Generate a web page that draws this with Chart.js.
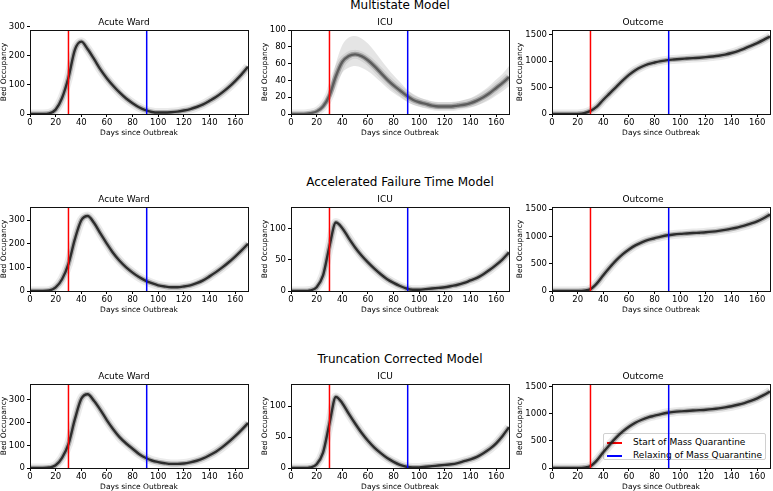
<!DOCTYPE html>
<html>
<head>
<meta charset="utf-8">
<script src="https://cdn.jsdelivr.net/npm/chart.js@4.4.0/dist/chart.umd.min.js"></script>
<style>
  body { margin: 0; width: 773px; height: 491px; overflow: hidden; background: #fff; position: relative;
         font-family: 'DejaVu Sans', sans-serif; color: #000; }
  .panel { position: absolute; }
  .suptitle { position: absolute; left: 0; width: 800px; text-align: center; font-size: 12px; line-height: 12px; }
  .legend { position: absolute; left: 603px; top: 433px; width: 163px; height: 27px; box-sizing: border-box;
            border: 1px solid #d0d0d0; border-radius: 2px; background: rgba(255,255,255,0.85); font-size: 9px; }
  .legend .row { position: absolute; left: 3px; height: 11px; line-height: 11px; white-space: nowrap; }
  .legend .swatch { display: inline-block; width: 15px; height: 2px; vertical-align: middle; margin-right: 11px; }
</style>
</head>
<body>
<div class="suptitle" style="top:-1px">Multistate Model</div>
<div class="suptitle" style="top:176px">Accelerated Failure Time Model</div>
<div class="suptitle" style="top:353px">Truncation Corrected Model</div>

<div class="legend">
  <div class="row" style="top:3px"><span class="swatch" style="background:#ff0000"></span>Start of Mass Quarantine</div>
  <div class="row" style="top:16px"><span class="swatch" style="background:#0000ff"></span>Relaxing of Mass Quarantine</div>
</div>

<script>
// days since outbreak, shared by every panel
const days = [0, 5, 10, 15, 20, 25, 30, 35, 40, 45, 50, 55, 60, 65, 70, 75, 80, 85, 90, 95, 100,
              105, 110, 115, 120, 125, 130, 135, 140, 145, 150, 155, 160, 165, 170];

const quarantineStart = 30;
const quarantineRelax = 91;

// tick labels
const dayTicks = [0, 20, 40, 60, 80, 100, 120, 140, 160];
const acuteTicks = [0, 100, 200, 300];
const msIcuTicks = [0, 20, 40, 60, 80, 100];
const icuTicks = [0, 50, 100];
const outcomeTicks = [0, 500, 1000, 1500];

// Multistate model (row 1)
const msAcute = [0, 0, 0, 2, 15, 55, 125, 220, 248, 222, 188, 152, 122, 96, 73, 53, 37, 23, 13, 7, 5,
                 5, 6, 8, 12, 17, 24, 33, 45, 58, 74, 92, 113, 136, 162];
const msIcu = [0, 0, 0, 1, 3, 9, 22, 45, 62, 69, 71, 69, 64, 57, 49, 41, 34, 28, 22, 17, 14,
               12, 10, 9, 9, 9, 10, 11, 13, 16, 20, 25, 31, 37, 44];
const msIcuLow = [0, 0, 0, 0, 2, 6, 16, 33, 49, 55, 57, 55, 51, 45, 38, 31, 25, 20, 15, 11, 9,
                  7, 6, 5, 5, 5, 6, 7, 8, 10, 13, 17, 22, 27, 33];
const msIcuHigh = [0, 0, 0, 2, 5, 13, 29, 60, 82, 91, 93, 90, 84, 75, 65, 55, 46, 38, 30, 24, 20,
                   17, 15, 14, 14, 14, 15, 17, 19, 23, 28, 34, 41, 48, 57];
const msOutcome = [0, 0, 0, 0, 2, 15, 60, 140, 270, 390, 510, 630, 740, 830, 895, 945, 975, 1000, 1020, 1032, 1042,
                   1050, 1058, 1066, 1076, 1088, 1103, 1125, 1155, 1192, 1238, 1288, 1342, 1402, 1468];

// Accelerated failure time model (row 2)
const aftAcute = [0, 0, 0, 2, 15, 50, 115, 220, 300, 318, 288, 243, 200, 160, 127, 100, 78, 59, 44, 33, 24,
                  19, 16, 16, 19, 24, 33, 45, 62, 80, 100, 122, 146, 172, 200];
const aftIcu = [0, 0, 0, 1, 6, 25, 72, 110, 101, 85, 70, 57, 46, 36, 27, 19, 13, 8, 4, 2, 2,
                3, 4, 5, 6, 8, 10, 13, 17, 21, 27, 34, 42, 51, 62];
const aftOutcome = [0, 0, 0, 0, 1, 8, 35, 140, 290, 430, 560, 670, 760, 835, 890, 935, 965, 995, 1020, 1035, 1045,
                    1052, 1060, 1067, 1075, 1086, 1100, 1118, 1140, 1165, 1195, 1232, 1275, 1332, 1400];

// Truncation corrected model (row 3)
const tcAcute = [0, 0, 0, 2, 12, 45, 105, 215, 305, 325, 295, 255, 210, 170, 135, 108, 85, 62, 45, 33, 26,
                 21, 18, 18, 20, 25, 32, 42, 56, 72, 92, 115, 140, 168, 198];
const tcIcu = [0, 0, 0, 1, 6, 25, 72, 115, 105, 88, 72, 57, 44, 33, 24, 16, 10, 5, 2, 1, 1,
               2, 3, 4, 5, 6, 8, 11, 14, 18, 24, 31, 40, 52, 66];
const tcOutcome = [0, 0, 0, 0, 1, 8, 35, 140, 290, 430, 560, 670, 760, 835, 890, 935, 965, 995, 1020, 1035, 1045,
                   1052, 1060, 1067, 1075, 1086, 1100, 1118, 1140, 1167, 1198, 1237, 1285, 1345, 1413];

Chart.defaults.font.family = "'DejaVu Sans', sans-serif";
Chart.defaults.color = '#000';

const PLOT_W = 218, PLOT_H = 84, TITLE_H = 18, X_H = 24, PAD_R = 3;
const DARK = 'rgba(30,30,30,0.9)';
const SOFT = 'rgba(70,70,70,0.75)';

// plot area position of every panel (left, top of the axes box)
const panels = [
  { title: 'Acute Ward', left: 30,  top: 30,  yW: 30, yMax: 288,  yTicks: acuteTicks,   values: msAcute, core: DARK },
  { title: 'ICU',        left: 291, top: 30,  yW: 30, yMax: 100,  yTicks: msIcuTicks,   values: msIcu, core: SOFT,
    low: msIcuLow, high: msIcuHigh },
  { title: 'Outcome',    left: 552, top: 30,  yW: 36, yMax: 1590, yTicks: outcomeTicks, values: msOutcome, core: DARK },
  { title: 'Acute Ward', left: 30,  top: 207, yW: 30, yMax: 356,  yTicks: acuteTicks,   values: aftAcute, core: DARK },
  { title: 'ICU',        left: 291, top: 207, yW: 30, yMax: 135,  yTicks: icuTicks,     values: aftIcu, core: DARK },
  { title: 'Outcome',    left: 552, top: 207, yW: 36, yMax: 1537, yTicks: outcomeTicks, values: aftOutcome, core: DARK },
  { title: 'Acute Ward', left: 30,  top: 384, yW: 30, yMax: 370,  yTicks: acuteTicks,   values: tcAcute, core: DARK },
  { title: 'ICU',        left: 291, top: 384, yW: 30, yMax: 136,  yTicks: icuTicks,     values: tcIcu, core: DARK },
  { title: 'Outcome',    left: 552, top: 384, yW: 36, yMax: 1550, yTicks: outcomeTicks, values: tcOutcome, core: DARK }
];

const toPoints = vals => days.map((d, i) => ({ x: d, y: vals[i] }));

// draws the box round the plot area, like matplotlib spines
const framePlugin = {
  id: 'frame',
  afterDatasetsDraw(chart) {
    const a = chart.chartArea, ctx = chart.ctx;
    ctx.save();
    ctx.strokeStyle = '#111';
    ctx.lineWidth = 1;
    ctx.strokeRect(Math.round(a.left) + 0.5, Math.round(a.top) + 0.5,
                   Math.round(a.right - a.left), Math.round(a.bottom - a.top));
    ctx.restore();
  }
};

function curve(vals, color, width, order) {
  return { data: toPoints(vals), borderColor: color, borderWidth: width, order: order,
           pointRadius: 0, cubicInterpolationMode: 'monotone', fill: false };
}

function vline(x, yMax, color) {
  return { data: [{ x: x, y: 0 }, { x: x, y: yMax }], borderColor: color, borderWidth: 1.5,
           order: 0, pointRadius: 0, fill: false };
}

panels.forEach(p => {
  const wrap = document.createElement('div');
  wrap.className = 'panel';
  const w = p.yW + PLOT_W + PAD_R, h = TITLE_H + PLOT_H + X_H;
  wrap.style.left = (p.left - p.yW) + 'px';
  wrap.style.top = (p.top - TITLE_H) + 'px';
  const canvas = document.createElement('canvas');
  canvas.width = w;
  canvas.height = h;
  wrap.appendChild(canvas);
  document.body.appendChild(wrap);

  const datasets = [
    vline(quarantineStart, p.yMax, '#ff0000'),
    vline(quarantineRelax, p.yMax, '#0000ff'),
    curve(p.values, p.core, 2.4, 1),
    curve(p.values, 'rgba(0,0,0,0.25)', 5, 2),
    curve(p.values, 'rgba(0,0,0,0.08)', 9, 3)
  ];
  // spread of the simulated runs where it is wide
  if (p.high) {
    datasets.push({ data: toPoints(p.high), borderWidth: 0, pointRadius: 0, order: 4,
                    cubicInterpolationMode: 'monotone', fill: '+1', backgroundColor: 'rgba(0,0,0,0.1)' });
    datasets.push({ data: toPoints(p.low), borderWidth: 0, pointRadius: 0, order: 5,
                    cubicInterpolationMode: 'monotone', fill: false });
  }

  new Chart(canvas, {
    type: 'line',
    data: { datasets: datasets },
    plugins: [framePlugin],
    options: {
      responsive: false,
      animation: false,
      layout: { padding: { top: 0, right: PAD_R, bottom: 0, left: 0 } },
      plugins: {
        legend: { display: false },
        tooltip: { enabled: false },
        title: {
          display: true,
          text: p.title,
          font: { size: 9, weight: 'normal' },
          color: '#000',
          padding: { top: 5.6, bottom: 1.6 }
        }
      },
      scales: {
        x: {
          type: 'linear',
          min: 0,
          max: 170,
          afterFit: s => { s.height = X_H; },
          afterBuildTicks: s => { s.ticks = dayTicks.map(v => ({ value: v })); },
          ticks: { autoSkip: false, maxRotation: 0, padding: 1, font: { size: 8.5 }, color: '#000',
                   callback: v => String(v) },
          grid: { drawOnChartArea: false, drawTicks: true, tickLength: 3, color: '#000' },
          border: { display: false },
          title: { display: true, text: 'Days since Outbreak', font: { size: 7.5 },
                   padding: { top: 0, bottom: 0.5 }, color: '#000' }
        },
        y: {
          min: 0,
          max: p.yMax,
          afterFit: s => { s.width = p.yW; },
          afterBuildTicks: s => { s.ticks = p.yTicks.map(v => ({ value: v })); },
          ticks: { autoSkip: false, padding: 2, font: { size: 8.5 }, color: '#000',
                   callback: v => String(v) },
          grid: { drawOnChartArea: false, drawTicks: true, tickLength: 3, color: '#000' },
          border: { display: false },
          title: { display: true, text: 'Bed Occupancy', font: { size: 7.5 },
                   padding: { top: 0, bottom: 0 }, color: '#000' }
        }
      }
    }
  });
});
</script>
</body>
</html>
